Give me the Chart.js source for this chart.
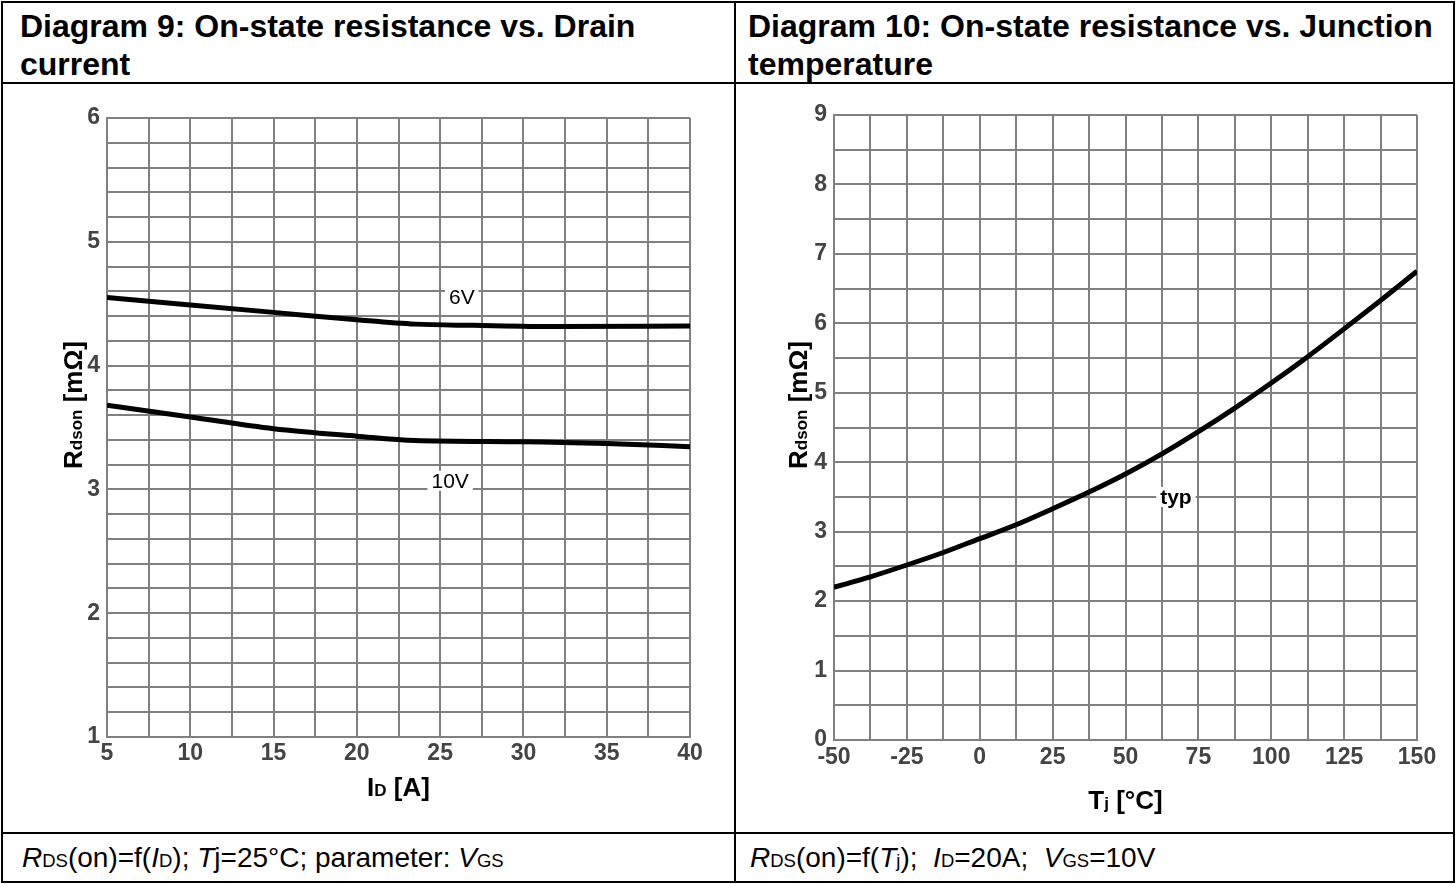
<!DOCTYPE html>
<html>
<head>
<meta charset="utf-8">
<title>On-state resistance</title>
<script src="https://cdn.jsdelivr.net/npm/chart.js@4.4.0/dist/chart.umd.min.js"></script>
<style>
  html, body { margin: 0; padding: 0; background: #fff; }
  body { width: 1456px; height: 884px; position: relative; overflow: hidden;
         font-family: 'Liberation Sans', Arial, sans-serif; color: #000; }
  .rule { position: absolute; background: #000; }
  .title { position: absolute; font-weight: bold; font-size: 32px; line-height: 38px; white-space: nowrap; }
  .foot { position: absolute; font-size: 28px; line-height: 28px; white-space: nowrap; }
  .foot .s { font-size: 18.5px; }
  canvas { position: absolute; }
</style>
</head>
<body>
  <!-- table frame -->
  <div class="rule" style="left:1px;top:1px;width:1454px;height:2px"></div>
  <div class="rule" style="left:1px;top:881px;width:1454px;height:2px"></div>
  <div class="rule" style="left:1px;top:1px;width:2px;height:882px"></div>
  <div class="rule" style="left:1453px;top:1px;width:2px;height:882px"></div>
  <div class="rule" style="left:734px;top:1px;width:2px;height:882px"></div>
  <div class="rule" style="left:1px;top:82px;width:1454px;height:2px"></div>
  <div class="rule" style="left:1px;top:832px;width:1454px;height:2px"></div>

  <div class="title" style="left:20px;top:7px">Diagram 9: On-state resistance vs. Drain<br>current</div>
  <div class="title" style="left:748px;top:7px">Diagram 10: On-state resistance vs. Junction<br>temperature</div>

  <canvas id="c9" width="728" height="745" style="left:4px;top:86px"></canvas>
  <canvas id="c10" width="716" height="745" style="left:737px;top:86px"></canvas>

  <div class="foot" style="left:22px;top:844px"><i>R</i><span class="s">DS</span>(on)=f(<i>I</i><span class="s">D</span>); <i>T</i>j=25°C; parameter: <i>V</i><span class="s">GS</span></div>
  <div class="foot" style="left:750px;top:844px"><i>R</i><span class="s">DS</span>(on)=f(<i>T</i><span class="s">j</span>);&nbsp; <i>I</i><span class="s">D</span>=20A;&nbsp; <i>V</i><span class="s">GS</span>=10V</div>

<script>
// Diagram 9: R_DS(on) vs drain current, two gate voltages
const drainCurrent6V = [5, 10, 15, 20, 23.5, 27, 32, 40];
const rdson6V        = [4.55, 4.49, 4.43, 4.37, 4.335, 4.325, 4.315, 4.32];
const drainCurrent10V = [5, 10, 15, 20, 23.5, 30, 35, 40];
const rdson10V        = [3.68, 3.585, 3.49, 3.43, 3.395, 3.385, 3.37, 3.345];
const idTickLabels    = [5, 10, 15, 20, 25, 30, 35, 40];
const rdsTickLabels9  = [1, 2, 3, 4, 5, 6];

// Diagram 10: R_DS(on) vs junction temperature, typical
const junctionTemp = [-50, -37.5, -25, -12.5, 0, 12.5, 25, 37.5, 50, 62.5, 75, 87.5, 100, 112.5, 125, 137.5, 150];
const rdsonTyp     = [2.2, 2.35, 2.52, 2.70, 2.9, 3.1, 3.33, 3.57, 3.83, 4.12, 4.44, 4.78, 5.14, 5.52, 5.92, 6.33, 6.75];
const tjTickLabels    = [-50, -25, 0, 25, 50, 75, 100, 125, 150];
const rdsTickLabels10 = [0, 1, 2, 3, 4, 5, 6, 7, 8, 9];

const FAMILY = "'Liberation Sans', Arial, sans-serif";
const BIG = 'bold 26px ' + FAMILY;
const SMALL = 'bold 17px ' + FAMILY;
const GRID = '#808080';
const TICK = '#444444';

function pts(xs, ys) { return xs.map((x, i) => ({ x: x, y: ys[i] })); }

function labelFrom(list) {
  return function (v) {
    const hit = list.find(t => Math.abs(t - v) < 1e-6);
    return hit === undefined ? '' : String(hit);
  };
}

function drawRich(ctx, segs, x, y, rotate) {
  ctx.save();
  ctx.translate(x, y);
  if (rotate) ctx.rotate(-Math.PI / 2);
  let total = 0;
  segs.forEach(s => { ctx.font = s[1]; s.w = ctx.measureText(s[0]).width; total += s.w; });
  let cx = -total / 2;
  ctx.textAlign = 'left';
  ctx.textBaseline = 'alphabetic';
  ctx.fillStyle = '#000';
  segs.forEach(s => { ctx.font = s[1]; ctx.fillText(s[0], cx, 0); cx += s.w; });
  ctx.restore();
}

function drawTag(ctx, text, font, x, y) {
  ctx.save();
  ctx.font = font;
  const w = ctx.measureText(text).width;
  ctx.fillStyle = '#fff';
  ctx.fillRect(x - w / 2 - 4, y - 10, w + 8, 20);
  ctx.fillStyle = '#000';
  ctx.textAlign = 'center';
  ctx.textBaseline = 'middle';
  ctx.fillText(text, x, y + 1);
  ctx.restore();
}

// axis titles with subscripts and curve tags
const annotate = {
  id: 'annotate',
  afterDraw(chart, args, o) {
    const ctx = chart.ctx, a = chart.chartArea;
    drawRich(ctx, o.xTitle, (a.left + a.right) / 2, a.bottom + o.xTitleDy, false);
    drawRich(ctx, o.yTitle, a.left + o.yTitleDx, a.top + o.yTitleDy, true);
    (o.tags || []).forEach(t => {
      drawTag(ctx, t.text, t.font,
        chart.scales.x.getPixelForValue(t.at[0]),
        chart.scales.y.getPixelForValue(t.at[1]));
    });
  }
};

function gridScale(min, max, step, labels, pad, fixed, horizontal) {
  return {
    type: 'linear', min: min, max: max,
    grid: { color: GRID, lineWidth: 2, drawTicks: false },
    border: { color: GRID, width: 2 },
    ticks: {
      stepSize: step, autoSkip: false, maxRotation: 0, padding: pad,
      color: TICK, font: { family: FAMILY, size: 23, weight: 'bold' },
      callback: labelFrom(labels)
    },
    afterFit(scale) { if (horizontal) scale.height = fixed; else scale.width = fixed; }
  };
}

function lineSet(data) {
  return {
    data: data, borderColor: '#000', borderWidth: 5, pointRadius: 0,
    fill: false, cubicInterpolationMode: 'monotone'
  };
}

const yTitleSegs = () => [['R', BIG], ['dson', SMALL], [' [mΩ]', BIG]];

new Chart(document.getElementById('c9'), {
  type: 'line',
  data: { datasets: [lineSet(pts(drainCurrent6V, rdson6V)), lineSet(pts(drainCurrent10V, rdson10V))] },
  options: {
    responsive: false, animation: false, devicePixelRatio: 1,
    layout: { padding: { left: 0, top: 32, right: 42, bottom: 0 } },
    scales: {
      x: gridScale(5, 40, 2.5, idTickLabels, 3, 94, true),
      y: gridScale(1, 6, 0.2, rdsTickLabels9, 7, 103, false)
    },
    plugins: {
      legend: { display: false }, tooltip: { enabled: false },
      annotate: {
        xTitle: [['I', BIG], ['D', SMALL], [' [A]', BIG]], xTitleDy: 59,
        yTitle: yTitleSegs(), yTitleDx: -25, yTitleDy: 287,
        tags: [
          { text: '6V', font: '21px ' + FAMILY, at: [26.3, 4.556] },
          { text: '10V', font: '21px ' + FAMILY, at: [25.6, 3.07] }
        ]
      }
    }
  },
  plugins: [annotate]
});

new Chart(document.getElementById('c10'), {
  type: 'line',
  data: { datasets: [lineSet(pts(junctionTemp, rdsonTyp))] },
  options: {
    responsive: false, animation: false, devicePixelRatio: 1,
    layout: { padding: { left: 0, top: 29, right: 36, bottom: 0 } },
    scales: {
      x: gridScale(-50, 150, 12.5, tjTickLabels, 4, 91, true),
      y: gridScale(0, 9, 0.5, rdsTickLabels10, 7, 97, false)
    },
    plugins: {
      legend: { display: false }, tooltip: { enabled: false },
      annotate: {
        xTitle: [['T', BIG], ['j', SMALL], [' [°C]', BIG]], xTitleDy: 69,
        yTitle: yTitleSegs(), yTitleDx: -27, yTitleDy: 290,
        tags: [
          { text: 'typ', font: 'bold 21px ' + FAMILY, at: [67.3, 3.50] }
        ]
      }
    }
  },
  plugins: [annotate]
});
</script>
</body>
</html>
